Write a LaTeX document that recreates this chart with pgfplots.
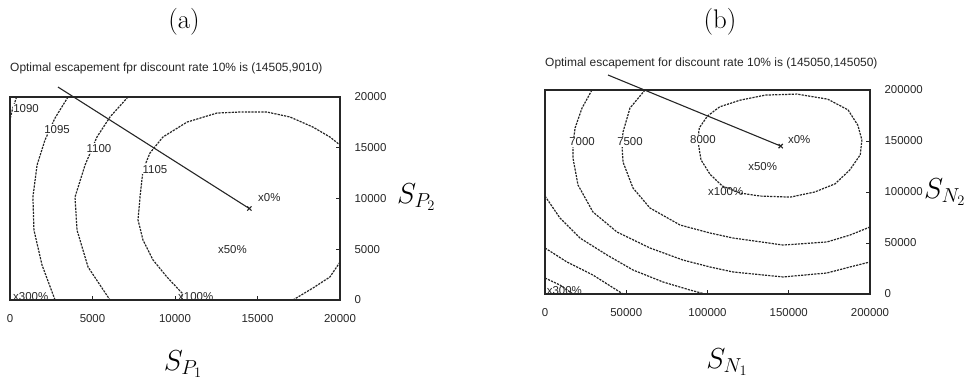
\RequirePackage{fix-cm}
\documentclass[border=0pt]{standalone}
\usepackage{fontspec}
\newfontfamily\sans{Liberation Sans}
\usepackage{pgfplots}
\pgfplotsset{compat=1.18}
\begin{document}
\begin{tikzpicture}
\path[use as bounding box] (0,0) rectangle (975bp,-383bp);
\pgfplotsset{
  myax/.style={scale only axis, clip=false, anchor=south west, scaled ticks=false,
    axis line style={black!85,line width=1.3bp},
    tick style={black!85,line width=1bp},
    tick align=inside, major tick length=4bp,
    xtick pos=lower, ytick pos=upper, yticklabel pos=upper,
    tick label style={font=\sans\fontsize{11.5}{12}\selectfont, text=black!85},
    yticklabel style={anchor=west, xshift=11bp},
    xticklabel style={yshift=-11bp}}}
\tikzset{
  cont/.style={draw=black!85, line width=1.2bp, dash pattern=on 2.2bp off 1.1bp},
  clab/.style={fill=white, inner sep=0.6bp, font=\sans\fontsize{11.5}{12}\selectfont, text=black!85},
  plab/.style={anchor=west, inner sep=0pt, font=\sans\fontsize{11.5}{12}\selectfont, text=black!85},
  opt/.style={draw=black!85, line width=1.1bp, mark=x, mark size=3bp, mark indices={2}, mark options={solid}}
}
% ---------------- (a) ----------------
\begin{axis}[myax, at={(10bp,-300bp)}, width=330bp, height=203bp,
  xmin=0,xmax=20000,ymin=0,ymax=20000,
  xtick={0,5000,10000,15000,20000}, xticklabels={0,5000,10000,15000,20000},
  ytick={0,5000,10000,15000,20000}, yticklabels={0,5000,10000,15000,20000}]
\addplot[cont] coordinates {(400,20000) (150,18800) (0,17800)};
\addplot[cont] coordinates {(3515,20000) (2730,17930) (2120,15760) (1640,13300) (1390,10150) (1450,6900) (1940,3450) (2730,0)};
\addplot[cont] coordinates {(7150,20000) (6060,18030) (5270,16060) (4550,13300) (3940,10150) (4060,6900) (4730,3250) (6060,0)};
\addplot[cont] coordinates {(10420,0) (10420,690) (9510,2270) (8670,3940) (8060,5910) (7760,7880) (7880,10150) (8060,12800) (8480,14480) (9270,16060) (10730,17530) (12540,18420) (13940,18520) (15570,18520) (16970,18030) (18360,17040) (19390,16060) (20000,15270)};
\addplot[cont] coordinates {(20000,3740) (19390,2270) (18360,1180) (17150,0)};
\node[clab] at (axis cs:970,18900) {1090};
\node[clab] at (axis cs:2850,16840) {1095};
\node[clab] at (axis cs:5390,14970) {1100};
\node[clab] at (axis cs:8790,12900) {1105};
\addplot[opt] coordinates {(2910,20980) (14505,9010)};
\node[plab] at (axis cs:15030,10050) {x0\%};
\node[plab] at (axis cs:12600,4925) {x50\%};
\node[plab] at (axis cs:10180,300) {x100\%};
\node[plab] at (axis cs:180,300) {x300\%};
\end{axis}
% ---------------- (b) ----------------
\begin{axis}[myax, at={(545bp,-294bp)}, width=325bp, height=204bp,
  xmin=0,xmax=200000,ymin=0,ymax=200000,
  xtick={0,50000,100000,150000,200000}, xticklabels={0,50000,100000,150000,200000},
  ytick={0,50000,100000,150000,200000}, yticklabels={0,50000,100000,150000,200000}]
\addplot[cont] coordinates {(94000,151000) (95000,163000) (100000,174500) (107500,183500) (120000,190000) (135500,195000) (155000,196000) (174000,191000) (186500,180500) (192500,165500) (195000,151000) (194000,136500) (187500,121500) (178500,108000) (166000,100000) (151000,95000) (132500,96000) (120000,99000) (109000,106000) (101500,117500) (96000,131500) (94000,151000)};
\addplot[cont] coordinates {(61540,200000) (52310,182350) (48000,158800) (47400,146100) (48000,129400) (54150,103900) (64600,84300) (83100,67650) (101500,59800) (115700,54900) (146500,48000) (173500,51000) (187700,57800) (200000,65700)};
\addplot[cont] coordinates {(28900,200000) (22800,182350) (18500,162750) (17200,146100) (17200,133300) (20300,106900) (29500,80400) (44300,60800) (64600,45100) (84900,33300) (101500,26500) (115700,21600) (146500,16700) (173500,20600) (187700,26500) (200000,31400)};
\addplot[cont] coordinates {(0,96000) (9200,74500) (21500,54900) (38200,38200) (54200,23500) (72600,11800) (89200,3900) (98500,0)};
\addplot[cont] coordinates {(0,45100) (13500,31400) (29500,18600) (48000,0)};
\addplot[cont] coordinates {(0,15700) (9200,8800) (17200,0)};
\node[clab] at (axis cs:22800,149000) {7000};
\node[clab] at (axis cs:52300,149000) {7500};
\node[clab] at (axis cs:97200,151000) {8000};
\addplot[opt] coordinates {(38770,214700) (145050,145050)};
\node[plab] at (axis cs:149500,151000) {x0\%};
\node[plab] at (axis cs:125000,124500) {x50\%};
\node[plab] at (axis cs:100300,100000) {x100\%};
\node[plab] at (axis cs:1000,3000) {x300\%};
\end{axis}
% titles and labels
\node[font=\fontsize{27}{30}\selectfont] at (184bp,-22bp) {(a)};
\node[font=\fontsize{27}{30}\selectfont] at (720bp,-22bp) {(b)};
\node[anchor=west, inner sep=0pt, font=\sans\fontsize{12}{14}\selectfont, text=black!85] at (10bp,-68bp) {Optimal escapement fpr discount rate 10\% is (14505,9010)};
\node[anchor=west, inner sep=0pt, font=\sans\fontsize{12}{14}\selectfont, text=black!85] at (545bp,-63bp) {Optimal escapement for discount rate 10\% is (145050,145050)};
\node[inner sep=0pt, font=\fontsize{29}{32}\selectfont] at (183bp,-364bp) {$S_{P_1}$};
\node[inner sep=0pt, font=\fontsize{29}{32}\selectfont] at (727bp,-362bp) {$S_{N_1}$};
\node[anchor=west, inner sep=0pt, font=\fontsize{29}{32}\selectfont] at (397bp,-197bp) {$S_{P_2}$};
\node[anchor=west, inner sep=0pt, font=\fontsize{29}{32}\selectfont] at (924bp,-192bp) {$S_{N_2}$};
\end{tikzpicture}
\end{document}
